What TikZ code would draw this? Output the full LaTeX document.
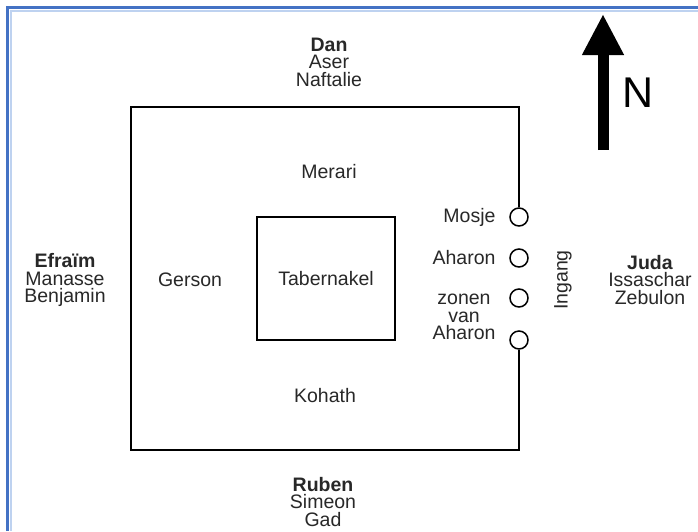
\documentclass[tikz,border=0pt]{standalone}
\usepackage{fontspec}
\setmainfont{Liberation Sans}
\usetikzlibrary{arrows.meta}

\definecolor{frameblue}{RGB}{68,114,196}
\definecolor{framelight}{RGB}{190,210,240}
\definecolor{inkgray}{RGB}{40,40,40}

\tikzset{
  tribe/.style={align=center, text=inkgray, font=\fontsize{19.5}{17.5}\selectfont},
  clan/.style={text=inkgray, font=\fontsize{19.5}{17.5}\selectfont},
  priest/.style={clan, anchor=east, align=center},
  gate/.style={circle, draw, line width=1.5pt, minimum size=18pt, inner sep=0pt}
}

\begin{document}
\begin{tikzpicture}[x=1pt, y=-1pt]
	\def\campL{131} % left side of the camp
	\def\campR{519} % right side of the camp
	\def\campT{107} % top of the camp
	\def\campB{450} % bottom of the camp
	
	% page size and frame
	\useasboundingbox (0,0) rectangle (698,531);
	\fill[white] (0,0) rectangle (698,531);
	\draw[framelight, line width=1.5pt] (11,531) -- (11,11) -- (698,11);
	\draw[frameblue, line width=3pt] (7.5,531) -- (7.5,7.5) -- (698,7.5);
	
	% north arrow
	\draw[line width=11pt, -{Triangle[width=39pt, length=41pt]}] (603,150) -- (603,14);
	\node[font=\fontsize{43}{43}\selectfont] (north) at (638,93) {N};
	
	% the four camps of the tribes
	\node[tribe] (dan) at (329,62) {\textbf{Dan}\\Aser\\Naftalie};
	\node[tribe] (efraim) at (65,280) {\textbf{Efraïm}\\Manasse\\Benjamin};
	\node[tribe] (juda) at (650,280) {\textbf{Juda}\\Issaschar\\Zebulon};
	\node[tribe] (ruben) at (323,502) {\textbf{Ruben}\\Simeon\\Gad};
	
	% the four gates on the east side
	\foreach \name/\y in {mosje/217, aharon/258, zonen/298, sons/340} {
		\node[gate] (\name) at (\campR,\y) {};
	}
	
	% the camp of the Levites
	\draw[line width=1.6pt] (mosje.north) -- (\campR,\campT) -- (\campL,\campT)
		-- (\campL,\campB) -- (\campR,\campB) -- (sons.south);
	
	% the tabernacle
	\node[draw, line width=1.6pt, minimum width=138pt, minimum height=123pt, clan] (tabernakel) at (326,278.5) {Tabernakel};
	
	% the clans around it
	\node[clan] (merari) at (329,172) {Merari};
	\node[clan] (gerson) at (190,280) {Gerson};
	\node[clan] (kohath) at (325,396) {Kohath};
	
	% who camps at the entrance
	\node[priest] (lmosje) at (499,217) {Mosje};
	\node[priest] (laharon) at (499,258) {Aharon};
	\node[priest] (lzonen) at (499,317) {zonen\\van\\Aharon};
	\node[clan, rotate=90] (ingang) at (563,280) {Ingang};
\end{tikzpicture}
\end{document}
